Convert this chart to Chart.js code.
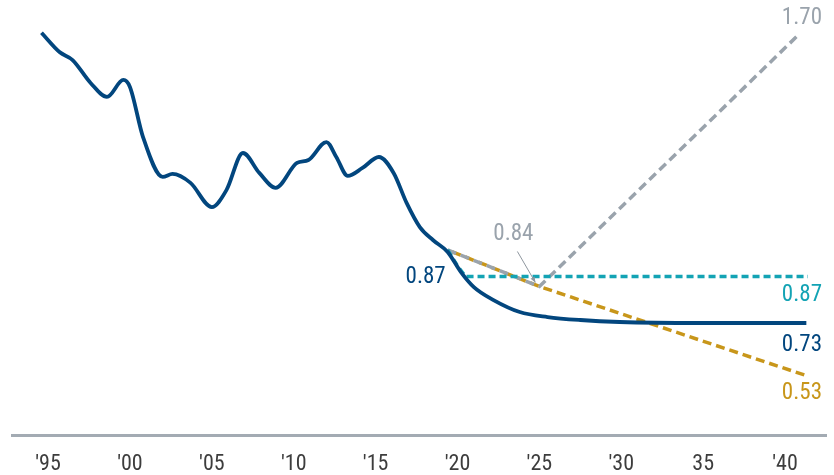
<!DOCTYPE html>
<html>
<head>
<meta charset="utf-8">
<script src="https://cdn.jsdelivr.net/npm/chart.js@4/dist/chart.umd.min.js"></script>
<style>
  html, body { margin: 0; padding: 0; background: #ffffff; }
  #wrap { width: 834px; height: 475px; position: relative; }
</style>
</head>
<body>
<div id="wrap"><canvas id="c"></canvas></div>
<script>
// ---- data ----
const histYears  = [1994.6, 1995.7, 1996.5, 1997.6, 1998.6, 1999.6, 2000.0, 2000.8, 2002.0, 2002.6, 2003.7, 2005.0, 2005.9, 2006.9, 2007.9, 2008.9, 2010.2, 2010.9, 2012.0, 2012.6, 2013.3, 2014.2, 2015.2, 2016.1, 2016.9, 2017.7, 2018.5, 2019.4, 2020.2, 2021.0, 2022.2, 2023.8, 2025.5, 2027.5, 2029.9, 2034.8, 2041.3];
const histValues = [1.604, 1.546, 1.522, 1.453, 1.411, 1.462, 1.441, 1.290, 1.170, 1.179, 1.152, 1.079, 1.131, 1.242, 1.182, 1.137, 1.212, 1.221, 1.275, 1.230, 1.173, 1.197, 1.230, 1.182, 1.091, 1.019, 0.980, 0.944, 0.884, 0.838, 0.799, 0.763, 0.748, 0.739, 0.733, 0.730, 0.730];

const flatYears  = [2019.4, 2020.0, 2020.5, 2041.4];
const flatValues = [0.950, 0.902, 0.870, 0.870];

const highYears  = [2019.4, 2025.0, 2040.8];
const highValues = [0.950, 0.840, 1.597];

const lowYears   = [2019.4, 2025.0, 2041.2];
const lowValues  = [0.950, 0.840, 0.573];

const tickYears  = [1995, 2000, 2005, 2010, 2015, 2020, 2025, 2030, 2035, 2040];
const tickLabels = ["'95", "'00", "'05", "'10", "'15", "'20", "'25", "'30", "35", "'40"];

const endLabels   = ['0.73', '0.87', '1.70', '0.53'];   // navy, cyan, grey, gold
const startLabel  = '0.87';
const turnLabel   = '0.84';

// ---- styles ----
const NAVY = '#02467e', CYAN = '#13a3b4', GREY = '#9aa3ac', GOLD = '#c8961a', TICK = '#3d3d3d';
const FONT = "'Roboto Condensed', 'Liberation Sans Narrow', 'Arial Narrow', 'DejaVu Sans Condensed', Roboto, sans-serif";

const pts = (xs, ys) => xs.map((x, i) => ({ x: x, y: ys[i] }));

const labelPlugin = {
  id: 'labels',
  afterDatasetsDraw(chart) {
    const ctx = chart.ctx, xs = chart.scales.x, ys = chart.scales.y;
    const P = (x, y) => [xs.getPixelForValue(x), ys.getPixelForValue(y)];
    ctx.save();
    ctx.font = '23px ' + FONT;
    ctx.textBaseline = 'middle';
    ctx.textAlign = 'right';
    const rightX = 822;
    const ends = [
      [histYears, histValues, NAVY, 22],
      [flatYears, flatValues, CYAN, 19],
      [highYears, highValues, GREY, -17],
      [lowYears, lowValues, GOLD, 18]
    ];
    ends.forEach((e, i) => {
      const n = e[0].length - 1;
      const p = P(e[0][n], e[1][n]);
      ctx.fillStyle = e[2];
      ctx.fillText(endLabels[i], rightX, p[1] + e[3]);
    });
    // start label
    const s = P(flatYears[0], flatValues[0]);
    ctx.fillStyle = NAVY;
    ctx.fillText(startLabel, s[0] - 2, s[1] + 27);
    // turning point label
    const t = P(highYears[1], highValues[1]);
    ctx.textAlign = 'center';
    ctx.fillStyle = GREY;
    ctx.fillText(turnLabel, t[0] - 26, t[1] - 52);
    // leader line with arrow
    const x0 = t[0] - 22, y0 = t[1] - 35, x1 = t[0] - 4, y1 = t[1] - 4;
    ctx.strokeStyle = '#8e969e';
    ctx.lineWidth = 1;
    ctx.beginPath(); ctx.moveTo(x0, y0); ctx.lineTo(x1, y1); ctx.stroke();
    const ang = Math.atan2(y1 - y0, x1 - x0);
    ctx.fillStyle = '#8e969e';
    ctx.beginPath();
    ctx.moveTo(x1, y1);
    ctx.lineTo(x1 - 6 * Math.cos(ang - 0.4), y1 - 6 * Math.sin(ang - 0.4));
    ctx.lineTo(x1 - 6 * Math.cos(ang + 0.4), y1 - 6 * Math.sin(ang + 0.4));
    ctx.closePath(); ctx.fill();
    ctx.restore();
  }
};

new Chart(document.getElementById('c'), {
  type: 'line',
  data: {
    datasets: [
      { data: pts(histYears, histValues), borderColor: NAVY, borderWidth: 3.8, cubicInterpolationMode: 'monotone', pointRadius: 0, order: 0 },
      { data: pts(flatYears, flatValues), borderColor: CYAN, borderWidth: 3.5, borderDash: [7, 4], tension: 0, pointRadius: 0, order: 1 },
      { data: pts(highYears, highValues), borderColor: GREY, borderWidth: 3.5, borderDash: [9, 5], tension: 0, pointRadius: 0, order: 2 },
      { data: pts(lowYears, lowValues), borderColor: GOLD, borderWidth: 3.5, borderDash: [9, 5], borderDashOffset: 9, tension: 0, pointRadius: 0, order: 3 }
    ]
  },
  options: {
    responsive: true,
    maintainAspectRatio: false,
    animation: false,
    layout: { padding: { left: 12, right: 8, top: 5, bottom: 0 } },
    plugins: { legend: { display: false }, tooltip: { enabled: false } },
    scales: {
      x: {
        type: 'linear',
        min: 1992.8,
        max: 2042.5,
        afterBuildTicks: (scale) => { scale.ticks = tickYears.map(v => ({ value: v })); },
        afterFit: (scale) => { scale.height = 40; },
        grid: { display: false, drawTicks: false },
        border: { display: true, color: '#a3abb3', width: 3 },
        ticks: {
          autoSkip: false,
          maxRotation: 0,
          padding: 16,
          color: TICK,
          font: { size: 22, family: FONT },
          callback: (v) => { const i = tickYears.indexOf(v); return i >= 0 ? tickLabels[i] : ''; }
        }
      },
      y: {
        display: false,
        min: 0.3926,
        max: 1.6878
      }
    }
  },
  plugins: [labelPlugin]
});
</script>
</body>
</html>
